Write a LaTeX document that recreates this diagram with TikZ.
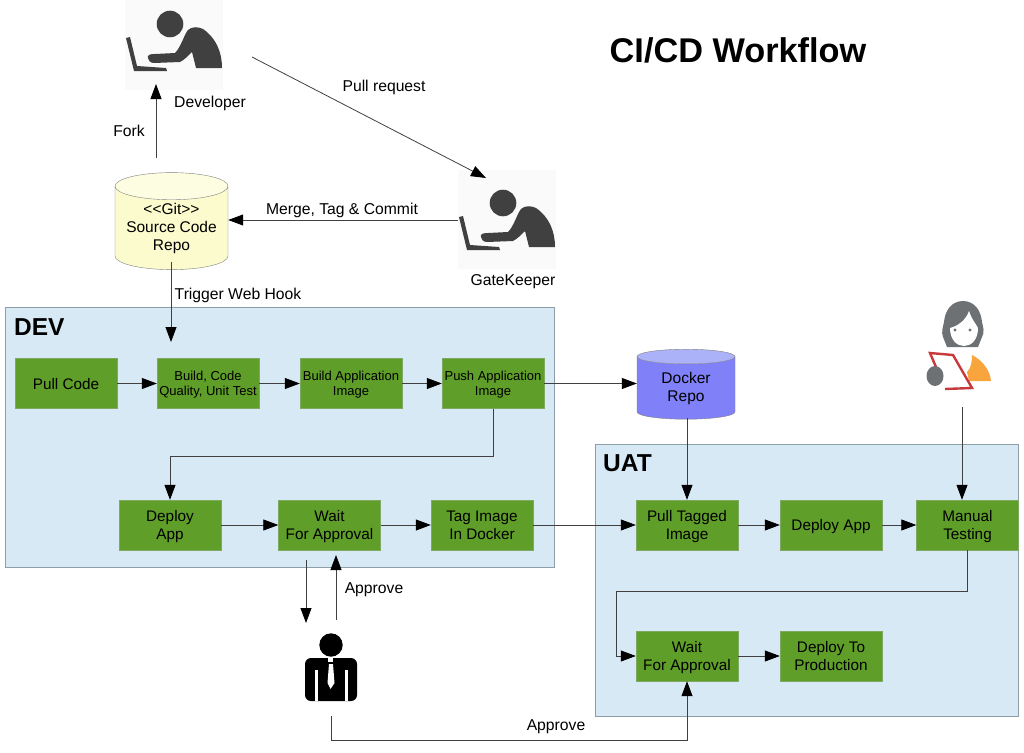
\documentclass[tikz,border=0pt]{standalone}
\usepackage{fontspec}
\setmainfont{Liberation Sans}
\usetikzlibrary{arrows.meta}
\usetikzlibrary{shapes.geometric}
\tikzset{>={Triangle[width=11pt,length=15pt,fill=black,color=black]}}
\definecolor{stepgreen}{HTML}{5F9E28}
\definecolor{stepedge}{HTML}{7FA860}
\definecolor{regionblue}{HTML}{D7E9F5}
\definecolor{regionedge}{HTML}{8E9EA6}
\definecolor{gitbody}{HTML}{FBFBCD}
\definecolor{gittop}{HTML}{FDFDE2}
\definecolor{dockerbody}{HTML}{8080F8}
\definecolor{dockertop}{HTML}{ABB2F8}
\definecolor{iconink}{HTML}{404040}
\definecolor{hairgrey}{HTML}{6E7173}
\definecolor{tabletred}{HTML}{C8393B}
\definecolor{shirtorange}{HTML}{F9A53E}
\tikzset{
  stepbox/.style={draw=stepedge,fill=stepgreen,minimum width=102pt,minimum height=50pt,
    inner sep=0pt,align=center,text depth=0pt,font=\fontsize{15.3}{18}\selectfont},
  smallstep/.style={stepbox,font=\fontsize{13}{15}\selectfont},
  regionbox/.style={draw=regionedge,fill=regionblue,inner sep=0pt},
  regionname/.style={font=\bfseries\fontsize{24.5}{28}\selectfont,inner sep=0pt},
  repo/.style={cylinder,shape border rotate=90,draw=#1,cylinder uses custom fill,
    align=center,inner sep=0pt,font=\fontsize{15.5}{18}\selectfont},
  lbl/.style={font=\fontsize{15.7}{18}\selectfont,inner sep=0pt},
  link/.style={->,draw=black!75,line width=.8pt},
  worker/.pic={
    \fill[black!2] (25,-9) rectangle (123,90);
    \fill[iconink] (70,24) circle (13.3);
    \fill[iconink] (48,58) .. controls (47,55) and (50,54) .. (55,54)
      -- (75,53) .. controls (81,47) and (84,35) .. (88,30)
      .. controls (92,26) and (99,27) .. (103,29)
      .. controls (116,38) and (122,52) .. (122,68) -- (96,68) -- (92,52)
      .. controls (88,56) and (84,60) .. (80,62) -- (54,63)
      .. controls (50,63) and (48,60) .. (48,58) -- cycle;
    \fill[iconink] (26,38) -- (30,37) -- (37,66) -- (66,68) -- (67,71) -- (34,71) -- cycle;
  },
  manager/.pic={
    \fill[black,rounded corners=6pt] (25,38) rectangle (77,81);
    \fill[black] (51,25) circle (11.7);
    \fill[white] (35,50) rectangle (38,81);
    \fill[white] (65,50) rectangle (68,81);
    \fill[black] (38,78) rectangle (65,80.5);
    \fill[white] (48,38) rectangle (53,42);
    \fill[white] (49,44) -- (53,44) -- (54.5,63) -- (50.5,69) -- (47.5,63) -- cycle;
  },
  tester/.pic={
    \fill[hairgrey] (43,47) .. controls (41,42) and (43,37) .. (44,32)
      .. controls (45,20) and (52,11) .. (63,11)
      .. controls (74,11) and (81,20) .. (82,32)
      .. controls (83,37) and (85,42) .. (82,47) -- (78,57) -- (47,57) -- cycle;
    \fill[white] (50,38) .. controls (58,36) and (66,30) .. (69,21)
      .. controls (72,30) and (76,34) .. (78,38)
      .. controls (78,50) and (71,56) .. (64,56)
      .. controls (57,56) and (50,50) .. (50,38) -- cycle;
    \fill[hairgrey] (55,40) circle (1.6) (70,40) circle (1.6);
    \fill[shirtorange] (72,65) .. controls (82,70) and (90,80) .. (91,91)
      -- (69,91) -- (67,82) .. controls (71,78) and (72,72) .. (72,65) -- cycle;
    \draw[tabletred,line width=2.4pt] (45,99) -- (72,98) -- (53,65) -- (30,63) -- (36,77);
    \fill[hairgrey] (35,86) ellipse (8.5 and 10);
  }
}

\begin{document}
\begin{tikzpicture}[x=1pt,y=-1pt]

  \useasboundingbox (0,0) rectangle (1024,752);

  %% regions
  \node[regionbox,minimum width=549pt,minimum height=260pt] (dev) at (279.5,437) {};
  \node[regionbox,minimum width=423pt,minimum height=272pt] (uat) at (806.5,580) {};
  \node[regionname,anchor=west] (devname) at (14,327) {DEV};
  \node[regionname,anchor=west] (uatname) at (603,463) {UAT};

  \node[font=\bfseries\fontsize{34.3}{38}\selectfont,inner sep=0pt] (title) at (738,50) {CI/CD Workflow};

  %% people
  \pic at (100,0) {worker};
  \pic at (433,179) {worker};
  \pic at (280,620) {manager};
  \pic at (900,290) {tester};

  %% repos
  \node[repo=gray,cylinder body fill=gitbody,cylinder end fill=gittop,
    minimum width=113pt,minimum height=97pt,aspect=.3] (gitrepo) at (171.5,228)
    {<{}<Git>{}>\\Source Code\\Repo};
  \node[repo=gray,cylinder body fill=dockerbody,cylinder end fill=dockertop,
    minimum width=98pt,minimum height=70pt,aspect=.3] (dockerrepo) at (686,388)
    {Docker\\Repo};

  %% dev row 1
  \node[stepbox] (pullcode) at (66,383.5) {Pull Code};
  \node[smallstep] (build) at (208,383.5) {Build, Code\\Quality, Unit Test};
  \node[smallstep] (buildimg) at (351,383.5) {Build Application\\Image};
  \node[smallstep] (pushimg) at (493,383.5) {Push Application\\Image};

  %% dev row 2
  \node[stepbox] (deploydev) at (170,525) {Deploy\\App};
  \node[stepbox] (waitdev) at (329.5,525) {Wait\\For Approval};
  \node[stepbox] (tagimg) at (482,525) {Tag Image\\In Docker};

  %% uat
  \node[stepbox] (pulltag) at (687,525) {Pull Tagged\\Image};
  \node[stepbox] (deployuat) at (831,525) {Deploy App};
  \node[stepbox] (manual) at (967.5,525) {Manual\\Testing};
  \node[stepbox] (waituat) at (687,656) {Wait\\For Approval};
  \node[stepbox] (prod) at (831,656) {Deploy To\\Production};

  %% free ends
  \coordinate (forkstart) at (156,158);
  \coordinate (devfoot) at (156,84);
  \coordinate (devhand) at (252,57);
  \coordinate (gatetop) at (486,178);
  \coordinate (gateleft) at (458,220);
  \coordinate (gitfoot) at (171,262);
  \coordinate (hookend) at (171,342);
  \coordinate (dockerfoot) at (687,418);
  \coordinate (testerfoot) at (962,407);
  \coordinate (bosstopl) at (306,623);
  \coordinate (bosstopr) at (336,620);
  \coordinate (waitdevl) at (306,560);
  \coordinate (waitdevr) at (336,555);
  \coordinate (bossfoot) at (331,716);
  \coordinate (bossturn) at (500,740);
  \coordinate (turn) at (616,591);

  \draw[link] (forkstart) -- (devfoot); %% git -> developer
  \draw[link] (devhand) -- (gatetop); %% developer -> gatekeeper
  \draw[link] (gateleft) -- (gitrepo.east |- gateleft);
  \draw[link] (gitfoot) -- (hookend);

  \draw[link] (pullcode) -- (build);
  \draw[link] (build) -- (buildimg);
  \draw[link] (buildimg) -- (pushimg);
  \draw[link] (pushimg) -- (dockerrepo.west |- pushimg);
  \draw[link] (pushimg.south) -- ++(0,48) -| (deploydev.north); %% push -> deploy

  \draw[link] (deploydev) -- (waitdev);
  \draw[link] (waitdev) -- (tagimg);
  \draw[link] (tagimg) -- (pulltag);
  \draw[link] (dockerfoot) -- (pulltag.north);

  \draw[link] (pulltag) -- (deployuat);
  \draw[link] (deployuat) -- (manual);
  \draw[link] (testerfoot) -- (testerfoot |- manual.north);
  \draw[link] (manual.south) |- (turn) |- (waituat.west); %% manual -> wait
  \draw[link] (waituat) -- (prod);

  \draw[link] (waitdevl) -- (bosstopl);
  \draw[link] (bosstopr) -- (waitdevr);
  \draw[link] (bossfoot) |- (bossturn) -| (waituat.south);

  %% labels
  \node[lbl] (developer) at (210,103) {Developer};
  \node[lbl] (gatekeeper) at (513,282) {GateKeeper};
  \node[lbl] (fork) at (129,131) {Fork};
  \node[lbl] (pullreq) at (384,87) {Pull request};
  \node[lbl] (merge) at (342,210) {Merge, Tag \& Commit};
  \node[lbl] (hook) at (238,295) {Trigger Web Hook};
  \node[lbl] (approvea) at (374,590) {Approve};
  \node[lbl] (approveb) at (556,727) {Approve};

\end{tikzpicture}
\end{document}
